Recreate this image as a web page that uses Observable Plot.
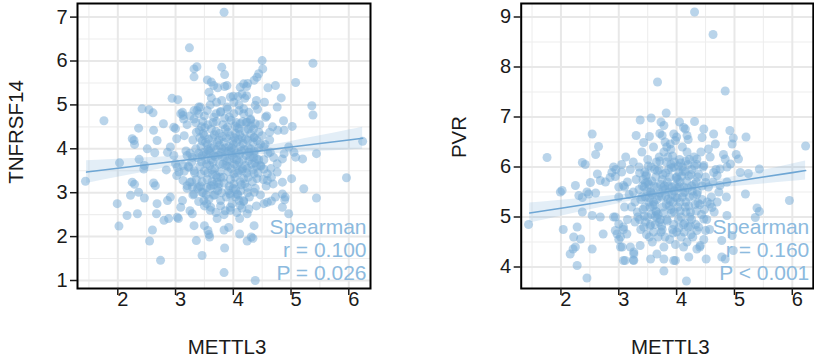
<!DOCTYPE html>
<html>
<head>
<meta charset="utf-8">
<script src="https://cdn.jsdelivr.net/npm/d3@7"></script>
<script src="https://cdn.jsdelivr.net/npm/@observablehq/plot@0.6"></script>
<style>
  html, body { margin: 0; padding: 0; background: #ffffff; }
  #wrap { position: relative; width: 814px; height: 359px; overflow: hidden; }
  #wrap svg { position: absolute; top: 0; }
</style>
</head>
<body>
<div id="wrap"></div>
<script>
// ---------- axis ticks ----------
const xTicks = [2, 3, 4, 5, 6];
const xMinor = [1.5, 2.5, 3.5, 4.5, 5.5];
const yTicksA = [1, 2, 3, 4, 5, 6, 7];
const yMinorA = [1.5, 2.5, 3.5, 4.5, 5.5, 6.5];
const yTicksB = [4, 5, 6, 7, 8, 9];
const yMinorB = [4.5, 5.5, 6.5, 7.5, 8.5];

// ---------- labels ----------
const xTitle = "METTL3";
const yTitleA = "TNFRSF14";
const yTitleB = "PVR";
const statsA = ["Spearman", "r = 0.100", "P = 0.026"];
const statsB = ["Spearman", "r = 0.160", "P < 0.001"];

// ---------- panel A points: [METTL3, TNFRSF14] ----------
const pointsA = [
[3.84,7.11],[3.24,6.30],[1.76,4.64],[1.44,3.26],[6.24,4.17],[5.96,3.34],[5.38,5.95],[5.08,5.51],[5.36,4.98],[5.38,4.77],
[5.44,3.89],[5.44,2.88],[5.20,3.77],[5.22,3.09],[5.01,3.32],[4.96,2.52],[5.02,4.51],[4.50,6.01],[4.51,5.82],[3.80,5.86],
[3.85,5.69],[3.32,5.82],[3.37,5.87],[3.32,5.64],[2.94,5.15],[3.04,5.12],[2.42,4.91],[2.54,4.89],[2.61,4.82],[2.36,4.47],
[2.25,4.23],[2.28,4.19],[2.29,4.10],[2.51,4.00],[2.64,3.91],[2.62,4.42],[2.68,4.19],[2.79,4.57],[2.03,3.68],[2.37,3.76],
[2.46,3.62],[2.45,3.54],[2.25,3.24],[2.29,3.19],[2.62,3.22],[2.65,3.16],[2.36,3.01],[2.22,2.94],[2.46,2.88],[1.99,2.75],
[2.16,2.48],[2.34,2.52],[2.02,2.24],[2.68,2.75],[2.67,2.52],[2.60,2.15],[2.55,1.90],[2.74,1.46],[2.84,3.52],[2.86,2.82],
[2.91,2.90],[2.80,2.37],[2.88,2.41],[3.09,2.67],[3.12,2.82],[3.03,2.44],[3.05,2.41],[3.25,2.59],[3.29,2.52],[3.32,2.25],
[3.36,1.91],[3.46,1.57],[3.50,2.25],[3.56,2.14],[3.59,1.99],[3.58,2.05],[3.72,2.41],[3.85,1.74],[3.84,1.18],[4.38,1.00],
[3.84,2.15],[3.92,2.21],[4.11,2.06],[4.24,1.90],[4.31,1.99],[4.34,1.96],[4.36,2.25],[4.24,2.52],[4.27,2.63],[4.11,2.41],
[4.18,2.82],[4.36,3.01],[4.53,2.75],[4.59,2.78],[4.66,2.81],[4.73,2.90],[4.85,2.97],[4.90,2.90],[4.89,2.84],[4.85,2.67],
[4.85,3.24],[4.69,3.20],[4.76,3.47],[4.76,3.66],[4.85,3.77],[4.88,3.89],[4.96,4.04],[5.05,3.92],[5.08,3.81],[4.88,4.42],
[4.87,4.64],[4.77,4.42],[4.63,4.38],[4.76,4.95],[4.83,5.16],[4.73,5.44],[4.60,5.39],[4.54,5.06],[4.56,4.72],[4.41,5.63],
[4.44,5.71],[4.36,5.56],[4.25,5.49],[4.23,5.42],[4.18,5.48],[4.12,5.40],[4.08,5.19],[4.15,5.25],[4.40,5.10],[4.38,4.99],
[4.23,5.21],[3.85,5.42],[3.89,5.44],[3.73,5.39],[3.66,5.44],[3.55,5.57],[3.62,5.52],[3.58,5.29],[3.62,5.16],[3.95,5.18],
[4.01,5.06],[3.71,5.06],[3.43,4.95],[3.37,4.87],[3.32,4.87],[3.40,4.80],[3.12,4.83],[3.13,4.76],[3.09,4.80],[3.32,4.68],
[3.14,4.68],[2.97,4.49],[3.00,4.46],[3.02,4.23],[2.91,4.04],[2.86,3.92],[2.97,3.85],[3.00,3.66],[3.03,3.58],[3.06,3.47],
[3.02,3.39],[3.20,3.85],[3.29,3.81],[3.23,3.58],[3.13,3.62],[3.15,3.49],[3.13,3.28],[3.20,3.16],[3.25,3.24],[3.29,3.13],
[3.32,2.97],[3.40,3.13],[3.46,3.01],[3.49,2.82],[3.54,2.75],[3.66,2.94],[3.61,2.67],[3.78,2.82],[3.86,2.59],[3.95,2.67],
[4.01,3.20],[4.07,2.97],[4.10,2.82],[4.12,2.71],[3.92,3.05],[3.95,2.94],[4.04,2.90],[3.61,3.16],[3.72,3.24],[3.78,3.35],
[4.01,3.43],[4.10,3.51],[4.18,3.32],[4.36,3.43],[4.41,3.32],[4.47,3.62],[4.53,3.54],[4.59,3.43],[4.59,3.28],[4.66,3.35],
[4.64,3.92],[4.53,4.04],[4.47,4.11],[4.36,3.89],[4.41,3.77],[4.27,3.73],[4.30,4.34],[4.36,4.26],[4.44,4.38],[4.41,4.19],
[4.12,4.57],[4.24,4.61],[4.30,4.68],[4.38,4.57],[4.01,4.80],[4.10,4.87],[4.18,4.91],[4.27,4.83],[3.89,4.95],[3.78,4.83],
[3.66,4.72],[3.55,4.87],
[3.45,4.5],[3.5,4.3],[3.55,4.1],[3.6,3.9],[3.65,3.7],[3.7,4.4],[3.75,4.2],[3.8,4.0],[3.85,3.8],[3.9,3.6],
[3.95,4.3],[4.0,4.1],[4.05,3.9],[4.1,3.7],[4.15,3.5],[4.2,4.4],[4.25,4.2],[4.3,4.0],[4.35,3.8],[4.4,3.6],
[3.4,3.9],[3.45,3.7],[3.5,3.5],[3.55,3.3],[3.6,3.1],[3.65,4.6],[3.7,3.4],[3.75,3.2],[3.8,3.0],[3.85,4.7],
[3.9,4.5],[3.95,3.3],[4.0,3.1],[4.05,4.6],[4.1,4.45],[4.15,4.25],[4.2,3.2],[4.25,3.0],[4.3,4.65],[4.35,4.45],
[3.3,4.2],[3.35,4.0],[3.38,3.8],[3.42,3.6],[3.48,4.35],[3.52,4.15],[3.58,3.95],[3.62,3.75],[3.68,3.55],[3.72,3.35],
[3.78,4.85],[3.82,4.55],[3.88,4.25],[3.92,4.05],[3.98,3.85],[4.02,3.65],[4.08,3.45],[4.12,3.25],[4.18,4.8],[4.22,4.6],
[3.25,3.9],[3.28,3.7],[3.32,3.5],[3.36,3.3],[3.44,4.05],[3.46,3.85],[3.54,3.65],[3.56,3.45],[3.64,4.25],[3.66,4.05],
[3.74,3.85],[3.76,3.65],[3.84,4.15],[3.86,3.95],[3.94,3.75],[3.96,3.55],[4.04,4.35],[4.06,4.15],[4.14,3.95],[4.16,3.75],
[4.24,3.55],[4.26,3.35],[4.34,4.15],[4.36,3.95],[4.44,3.75],[4.46,4.55],[4.5,4.3],[4.55,4.1],[4.6,3.9],[4.48,3.6],
[4.52,3.3],[4.58,4.75],[4.42,4.9],[4.38,3.1],[4.28,2.9],[4.18,2.8],[4.08,2.95],[3.98,2.75],[3.88,2.9],[3.78,2.7],
[3.68,2.95],[3.58,2.85],[3.48,3.0],[3.38,3.1],[3.28,3.25],[3.22,3.6],[3.18,3.95],[3.15,4.3],[3.2,4.55],[3.25,4.75],
[3.35,4.6],[3.4,4.95],[3.5,4.75],[3.6,5.0],[3.7,4.8],[3.8,5.1],[3.9,4.9],[4.0,5.2],[4.1,5.0],[4.2,5.15],
[3.62,4.45],[3.72,4.15],[3.82,3.65],[3.92,3.95],[4.02,4.25],[4.12,4.05],[4.22,3.85],[4.32,3.65],[3.52,3.75],[3.42,4.25],
[3.66,3.85],[3.76,4.35],[3.86,4.45],[3.96,4.65],[4.06,3.75],[4.16,3.55],[4.26,4.45],[4.36,4.25],[3.56,4.55],[3.46,3.25],
[3.33,3.45],[3.43,3.15],[3.53,2.95],[3.63,3.25],[3.73,3.05],[3.83,3.35],[3.93,3.15],[4.03,3.35],[4.13,3.05],[4.23,3.45],
[4.33,3.25],[4.43,3.45],[4.53,3.75],[4.63,4.2],[4.68,4.5],[4.7,3.8],[4.65,3.55],[4.57,3.15],[4.47,2.95],[4.4,2.7],
[3.6,2.6],[3.7,2.55],[3.84,2.5],[3.95,2.6],[4.06,2.55],[4.15,2.65],[3.5,2.7],[3.4,2.8],[3.3,2.95],[3.2,3.1],
[3.41,4.42],[3.47,4.62],[3.53,3.88],[3.57,4.22],[3.63,3.52],[3.67,4.32],[3.71,3.98],[3.77,3.48],[3.81,4.28],[3.87,3.62],
[3.91,4.38],[3.97,4.02],[4.01,3.78],[4.07,4.48],[4.11,3.88],[4.17,4.12],[4.21,3.62],[4.27,3.92],[4.31,4.52],[4.37,3.68],
[3.44,3.42],[3.49,3.92],[3.59,3.62],[3.69,3.82],[3.79,3.92],[3.89,3.72],[3.99,4.18],[4.09,4.22],[4.19,3.98],[4.29,3.82],
[3.61,4.02],[3.71,4.62],[3.81,3.82],[3.91,3.48],[4.01,3.98],[4.11,4.32],[4.21,4.22],[3.51,4.48],[3.93,4.72],[4.03,4.52],
[3.74,3.12],[3.84,3.22],[3.94,2.98],[4.04,3.08],[4.14,3.18],[3.64,3.42],[3.54,3.12],[4.24,3.12],[4.34,3.52],[4.44,4.02],
[3.36,4.38],[3.46,4.18],[3.56,3.98],[3.66,3.18],[3.76,4.08],[3.86,4.02],[3.96,3.92],[4.06,3.62],[4.16,4.62],[4.26,4.02]
];

// ---------- panel B points: [METTL3, PVR] ----------
const pointsB = [
[4.31,9.10],[4.63,8.65],[3.67,7.70],[4.84,7.52],[3.82,7.08],[3.37,6.94],[3.56,6.98],[4.31,6.91],[6.23,6.42],[5.95,5.33],
[5.43,5.96],[5.20,6.60],[4.98,6.58],[4.96,6.46],[4.92,6.73],[5.03,6.25],[5.07,6.16],[5.10,5.89],[5.24,5.87],[5.19,5.46],
[5.39,5.18],[5.43,5.11],[5.36,4.99],[4.81,6.25],[4.84,6.16],[4.64,6.66],[4.67,6.46],[4.55,6.36],[4.47,6.76],[4.44,6.59],
[4.15,6.76],[4.12,6.79],[4.18,6.63],[4.05,6.90],[3.73,6.90],[3.78,6.83],[3.75,6.63],[3.71,6.67],[3.53,6.61],[3.43,6.49],
[3.30,6.63],[3.95,6.66],[3.98,6.53],[3.89,6.46],[3.83,6.40],[2.54,6.66],[2.65,6.41],[2.60,6.25],[1.76,6.19],[2.37,6.09],
[2.42,6.05],[2.91,6.00],[2.88,5.89],[2.85,5.79],[2.63,5.86],[2.68,5.73],[2.51,5.69],[2.25,5.63],[1.99,5.50],[2.02,5.53],
[2.31,5.43],[2.37,5.39],[2.45,5.50],[2.48,5.46],[1.44,4.85],[2.04,4.75],[2.28,4.80],[2.22,4.60],[2.34,4.56],[2.25,4.40],
[2.21,4.36],[2.16,4.26],[2.28,4.03],[2.45,3.78],[2.54,4.36],[2.37,5.10],[2.54,5.03],[2.68,5.00],[2.73,4.66],[2.91,5.00],
[2.94,4.73],[2.97,4.66],[3.03,4.60],[3.03,4.40],[3.08,4.13],[3.25,4.14],[3.14,4.66],[3.20,4.40],[3.26,4.30],[3.37,4.43],
[3.55,4.16],[3.66,4.26],[3.78,4.16],[3.95,4.13],[3.98,4.13],[3.78,3.92],[4.17,3.72],[4.12,4.40],[4.21,4.20],[4.35,4.36],
[4.51,4.16],[4.41,4.43],[4.78,4.20],[4.84,4.16],[4.98,4.33],[4.96,4.63],[4.87,5.03],[4.78,4.53],[4.47,4.96],[4.50,4.73],
[4.35,4.73],[4.75,5.63],[4.87,5.70],[4.86,5.40],[4.73,5.50],[4.58,5.26],[4.61,5.19],[4.93,6.06],[4.87,6.00],[4.75,5.96],
[4.64,5.89],[4.70,5.83],[4.35,6.16],[4.47,6.03],[4.38,5.86],[4.50,5.69],[2.77,5.70],[2.60,5.48],[2.94,5.81],[3.00,5.60],
[3.08,5.63],[2.94,5.00],[3.00,4.86],[3.08,4.80],[3.06,4.40],[3.11,4.13],[3.26,4.13],[3.26,4.26],
[3.45,5.9],[3.5,5.7],[3.55,5.5],[3.6,5.3],[3.65,5.1],[3.7,5.95],[3.75,5.75],[3.8,5.55],[3.85,5.35],[3.9,5.15],
[3.95,6.0],[4.0,5.8],[4.05,5.6],[4.1,5.4],[4.15,5.2],[4.2,6.05],[4.25,5.85],[4.3,5.65],[4.35,5.45],[4.4,5.25],
[3.4,5.4],[3.45,5.2],[3.5,5.0],[3.55,4.85],[3.6,4.7],[3.65,6.1],[3.7,4.9],[3.75,4.75],[3.8,4.6],[3.85,6.2],
[3.9,6.05],[3.95,4.85],[4.0,4.7],[4.05,6.15],[4.1,6.0],[4.15,5.9],[4.2,4.8],[4.25,4.65],[4.3,6.2],[4.35,6.05],
[3.3,5.75],[3.35,5.55],[3.38,5.35],[3.42,5.15],[3.48,5.85],[3.52,5.65],[3.58,5.45],[3.62,5.25],[3.68,5.05],[3.72,4.95],
[3.78,6.3],[3.82,6.1],[3.88,5.8],[3.92,5.6],[3.98,5.4],[4.02,5.2],[4.08,5.0],[4.12,4.85],[4.18,6.3],[4.22,6.15],
[3.25,5.5],[3.28,5.3],[3.32,5.1],[3.36,4.95],[3.44,5.6],[3.46,5.4],[3.54,5.2],[3.56,5.05],[3.64,5.8],[3.66,5.6],
[3.74,5.4],[3.76,5.2],[3.84,5.7],[3.86,5.5],[3.94,5.3],[3.96,5.1],[4.04,5.9],[4.06,5.7],[4.14,5.5],[4.16,5.3],
[4.24,5.1],[4.26,4.95],[4.34,5.7],[4.36,5.5],[4.44,5.35],[4.46,6.0],[4.5,5.8],[4.55,5.6],[4.6,5.4],[4.48,5.15],
[4.52,4.95],[4.58,6.2],[4.42,6.3],[4.38,4.8],[4.28,4.6],[4.18,4.5],[4.08,4.6],[3.98,4.45],[3.88,4.55],[3.78,4.4],
[3.68,4.6],[3.58,4.5],[3.48,4.65],[3.38,4.75],[3.28,4.9],[3.22,5.2],[3.18,5.45],[3.15,5.7],[3.2,5.95],[3.25,6.1],
[3.35,6.0],[3.4,6.3],[3.5,6.15],[3.6,6.4],[3.7,6.2],[3.8,6.5],[3.9,6.35],[4.0,6.6],[4.1,6.4],[4.2,6.55],
[3.62,5.95],[3.72,5.65],[3.82,5.25],[3.92,5.45],[4.02,5.75],[4.12,5.6],[4.22,5.4],[4.32,5.25],[3.52,5.3],[3.42,5.75],
[3.66,5.35],[3.76,5.85],[3.86,5.95],[3.96,6.1],[4.06,5.3],[4.16,5.1],[4.26,5.95],[4.36,5.8],[3.56,6.0],[3.46,4.9],
[3.33,5.0],[3.43,4.8],[3.53,4.6],[3.63,4.85],[3.73,4.7],[3.83,4.95],[3.93,4.75],[4.03,4.95],[4.13,4.7],[4.23,5.0],
[4.33,4.85],[4.43,5.05],[4.53,5.3],[4.63,5.7],[4.68,5.95],[4.7,5.3],[4.65,5.1],[4.57,4.75],[4.47,4.55],[4.4,4.4],
[3.1,5.6],[3.05,5.9],[3.0,5.4],[3.1,5.2],[3.15,4.95],[3.05,6.05],[2.95,5.95],[3.12,6.2],[3.08,4.75],[3.0,4.55],
[3.41,5.62],[3.47,5.82],[3.53,5.38],[3.57,5.72],[3.63,5.02],[3.67,5.92],[3.71,5.48],[3.77,5.08],[3.81,5.88],[3.87,5.22],
[3.91,5.98],[3.97,5.62],[4.01,5.38],[4.07,6.08],[4.11,5.48],[4.17,5.72],[4.21,5.22],[4.27,5.52],[4.31,6.02],[4.37,5.28],
[3.44,5.02],[3.49,5.52],[3.59,5.22],[3.69,5.42],[3.79,5.62],[3.89,5.32],[3.99,5.78],[4.09,5.82],[4.19,5.58],[4.29,5.42],
[3.61,5.62],[3.71,6.12],[3.81,5.42],[3.91,5.08],[4.01,5.58],[4.11,5.92],[4.21,5.82],[3.51,6.02],[3.93,6.22],[4.03,6.02],
[3.74,4.82],[3.84,4.92],[3.94,4.68],[4.04,4.78],[4.14,4.88],[3.64,5.12],[3.54,4.82],[4.24,4.82],[4.34,5.12],[4.44,5.62],
[3.36,5.88],[3.46,5.68],[3.56,5.48],[3.66,4.98],[3.76,5.58],[3.86,5.62],[3.96,5.52],[4.06,5.12],[4.16,6.12],[4.26,5.62]
];

// ---------- fitted lines with 95% bands ----------
const fitX_A  = [1.46, 2.0, 2.5, 3.0, 3.5, 3.9, 4.5, 5.0, 5.5, 6.0, 6.24];
const fitY_A  = [3.470, 3.557, 3.637, 3.718, 3.798, 3.863, 3.959, 4.040, 4.120, 4.201, 4.240];
const fitLo_A = [3.210, 3.351, 3.480, 3.607, 3.725, 3.803, 3.873, 3.911, 3.944, 3.975, 3.990];
const fitHi_A = [3.730, 3.763, 3.794, 3.829, 3.871, 3.923, 4.045, 4.169, 4.296, 4.427, 4.490];

const fitX_B  = [1.46, 2.0, 2.5, 3.0, 3.5, 3.9, 4.5, 5.0, 5.5, 6.0, 6.23];
const fitY_B  = [5.080, 5.176, 5.265, 5.354, 5.443, 5.514, 5.621, 5.710, 5.799, 5.888, 5.929];
const fitLo_B = [4.880, 5.017, 5.143, 5.267, 5.384, 5.464, 5.552, 5.610, 5.662, 5.714, 5.739];
const fitHi_B = [5.280, 5.335, 5.387, 5.441, 5.502, 5.564, 5.690, 5.810, 5.936, 6.062, 6.119];

// ---------- styling ----------
const dotColor = "#74aad6";
const lineColor = "#6ea6d4";
const statColor = "#8cbade";
const font = "'Liberation Sans', Arial, Helvetica, sans-serif";

function panel(cfg) {
  const fit = cfg.fitX.map((x, i) => ({x, y: cfg.fitY[i], lo: cfg.fitLo[i], hi: cfg.fitHi[i]}));
  return Plot.plot({
    width: cfg.width,
    height: 359,
    marginLeft: cfg.marginLeft,
    marginRight: cfg.marginRight,
    marginTop: 3,
    marginBottom: 71,
    x: {domain: cfg.xDomain},
    y: {domain: cfg.yDomain},
    style: {fontFamily: font, background: "transparent", overflow: "visible", color: "#1a1a1a"},
    marks: [
      Plot.gridX(xMinor, {stroke: "#eeeeee", strokeWidth: 1.1, strokeOpacity: 1}),
      Plot.gridY(cfg.yMinor, {stroke: "#eeeeee", strokeWidth: 1.1, strokeOpacity: 1}),
      Plot.gridX(xTicks, {stroke: "#e8e8e8", strokeWidth: 2, strokeOpacity: 1}),
      Plot.gridY(cfg.yTicks, {stroke: "#e8e8e8", strokeWidth: 2, strokeOpacity: 1}),
      Plot.areaY(fit, {x: "x", y1: "lo", y2: "hi", fill: dotColor, fillOpacity: 0.2, curve: "monotone-x"}),
      Plot.dot(cfg.points, {x: d => d[0], y: d => d[1], r: 4.5, fill: dotColor, fillOpacity: 0.5, stroke: "none"}),
      Plot.line(fit, {x: "x", y: "y", stroke: lineColor, strokeWidth: 1.6}),
      Plot.text([cfg.stats.join("\n")], {
        frameAnchor: "bottom-right", textAnchor: "end", lineAnchor: "bottom",
        lineHeight: 1.08, dx: -4, dy: -9, fontSize: 21, fill: statColor
      }),
      Plot.frame({stroke: "#000", strokeWidth: 2}),
      Plot.axisX(xTicks, {tickSize: 7, tickFormat: () => "", strokeWidth: 1.5, label: null}),
      Plot.axisX(xTicks, {tickSize: 0, tickPadding: 3, dx: 5, fontSize: 20, tickFormat: d3.format("d"), label: null}),
      Plot.axisY(cfg.yTicks, {tickSize: 7, tickFormat: () => "", strokeWidth: 1.5, label: null}),
      Plot.axisY(cfg.yTicks, {tickSize: 0, tickPadding: 10, fontSize: 20, tickFormat: d3.format("d"), label: null}),
      Plot.text([xTitle], {frameAnchor: "bottom", textAnchor: "middle", lineAnchor: "bottom", dx: 3, dy: 65, fontSize: 20.5, fill: "#1a1a1a"}),
      Plot.text([cfg.yTitle], {frameAnchor: "left", textAnchor: "middle", rotate: -90, lineAnchor: "bottom", dx: -55, dy: cfg.yTitleDy, fontSize: 20.5, fill: "#1a1a1a"})
    ]
  });
}

const wrap = document.getElementById("wrap");

const svgA = panel({
  width: 400, marginLeft: 77, marginRight: 30,
  xDomain: [1.302, 6.376], yDomain: [0.818, 7.31],
  yTicks: yTicksA, yMinor: yMinorA,
  points: pointsA, stats: statsA, yTitle: yTitleA, yTitleDy: -14,
  fitX: fitX_A, fitY: fitY_A, fitLo: fitLo_A, fitHi: fitHi_A
});
svgA.style.left = "0px";
wrap.appendChild(svgA);

const svgB = panel({
  width: 407, marginLeft: 113.7, marginRight: 1.2,
  xDomain: [1.313, 6.363], yDomain: [3.57, 9.27],
  yTicks: yTicksB, yMinor: yMinorB,
  points: pointsB, stats: statsB, yTitle: yTitleB, yTitleDy: -9,
  fitX: fitX_B, fitY: fitY_B, fitLo: fitLo_B, fitHi: fitHi_B
});
svgB.style.left = "407px";
wrap.appendChild(svgB);
</script>
</body>
</html>
